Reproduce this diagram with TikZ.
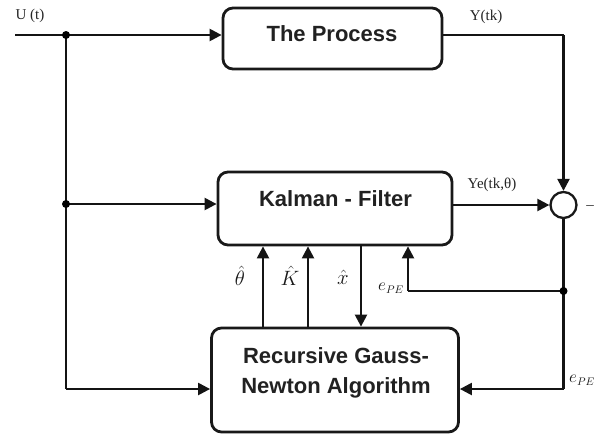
\documentclass[tikz,border=0pt]{standalone}
\usepackage{fontspec}
\setmainfont{Liberation Serif}
\newfontfamily\boxfont{Liberation Sans}
\usetikzlibrary{arrows.meta}
\begin{document}
\begin{tikzpicture}[x=1pt,y=-1pt,
  blk/.style={draw=black!90, line width=2.8pt, rounded corners=10pt, fill=white, inner sep=0pt},
  btxt/.style={font=\boxfont\bfseries\fontsize{22}{30}\selectfont, text=black!87, align=center, inner sep=0pt},
  wire/.style={line width=2.3pt, draw=black!92},
  conn/.style={wire, -{Triangle[length=12pt,width=12pt]}},
  lbl/.style={font=\fontsize{15}{17}\selectfont, text=black!85, inner sep=0pt},
  mlbl/.style={font=\fontsize{20}{22}\selectfont, text=black!90, inner sep=0pt},
  elbl/.style={font=\fontsize{16}{18}\selectfont, text=black!90, inner sep=0pt},
  jdot/.style={circle, fill=black, inner sep=0pt, minimum size=8pt},
  sumc/.style={circle, draw=black!90, line width=2.3pt, fill=white, inner sep=0pt, minimum size=26pt}]
\useasboundingbox (0,0) rectangle (603,437);
\fill[white] (0,0) rectangle (603,437);

% blocks
\node[blk, minimum width=219pt, minimum height=61pt] (proc) at (332.5,38.5) {};
\node[btxt] (proctxt) at (332,33.5) {The Process};
\node[blk, minimum width=234pt, minimum height=73pt] (kal) at (335,208.5) {};
\node[btxt] (kaltxt) at (335.5,198.5) {Kalman - Filter};
\node[blk, minimum width=247pt, minimum height=104pt] (rgn) at (335,380) {};
\node[btxt, anchor=base] (rgntxt) at (336,393) {Recursive Gauss-\\Newton Algorithm};
\node[sumc] (sum) at (563.5,205) {};

% junctions and free ends
\coordinate (uin) at (15,35);
\coordinate (j1) at (66,35);
\coordinate (j2) at (66,204);
\coordinate (lc) at (66,389);
\coordinate (j3) at (563.5,291);
\coordinate (rc) at (563.5,389);
\coordinate (pc) at (563.5,35);
\coordinate (ec) at (408,291);

% connectors
\draw[wire] (uin) -- (j1);
\draw[conn] (j1) -- (proc.west |- j1);
\draw[wire] (j1) -- (j2);
\draw[conn] (j2) -- (kal.west |- j2);
\draw[wire] (j2) -- (lc);
\draw[conn] (lc) -- (rgn.west |- lc);
\draw[wire] (proc.east |- pc) -- (pc);
\draw[conn] (pc) -- (sum.north);
\draw[conn] (kal.east |- sum) -- (sum.west);
\draw[wire] (sum.south) -- (j3);
\draw[wire] (j3) -- (rc);
\draw[conn] (rc) -- (rgn.east |- rc);
\draw[wire] (j3) -- (ec);
\draw[conn] (ec) -- (ec |- kal.south);
\draw[conn] (263,327) coordinate (t1) -- (t1 |- kal.south);
\draw[conn] (308,327) coordinate (t2) -- (t2 |- kal.south);
\draw[conn] (361,245) coordinate (t3) -- (t3 |- rgn.north);

% junction dots
\node[jdot] (d1) at (j1) {};
\node[jdot] (d2) at (j2) {};
\node[jdot] (d3) at (j3) {};

% labels
\node[lbl] (lu) at (30,16) {U (t)};
\node[lbl] (ly) at (486,17) {Y(tk)};
\node[lbl] (lye) at (492,185) {Ye(tk,θ)};
\node[lbl] (lminus) at (590,208) {–};
\node[mlbl] (lth) at (240,276) {$\hat{\theta}$};
\node[mlbl] (lk) at (290,276) {$\hat{K}$};
\node[mlbl] (lx) at (343,277) {$\hat{x}$};
\node[elbl] (le1) at (391,288) {$e_{PE}$};
\node[elbl] (le2) at (582,380) {$e_{PE}$};
\end{tikzpicture}
\end{document}
